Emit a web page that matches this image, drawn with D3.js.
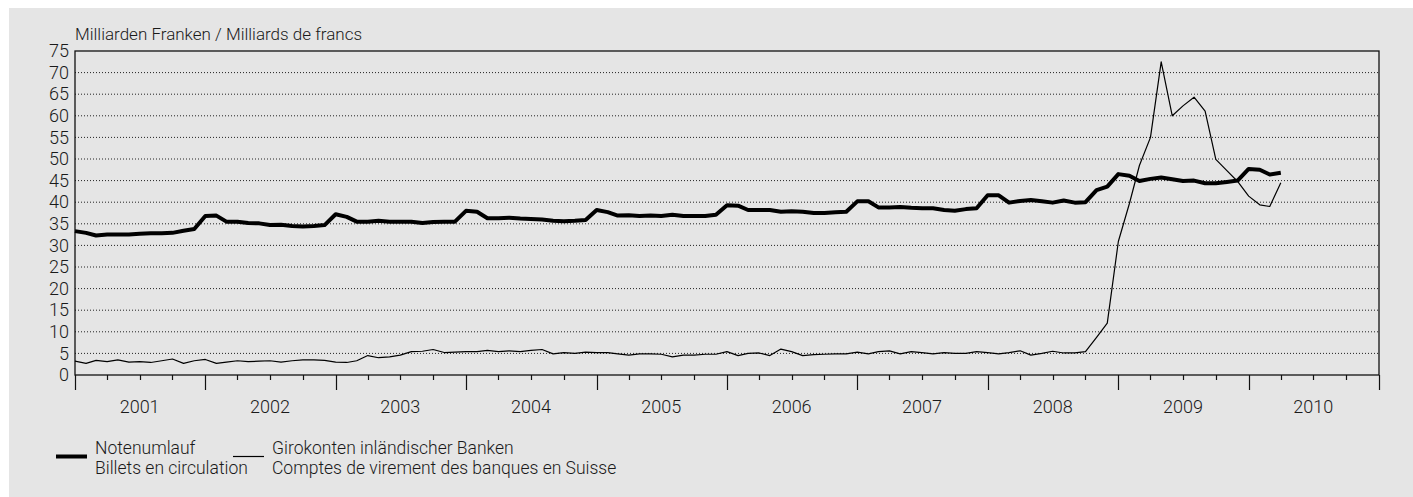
<!DOCTYPE html>
<html>
  <head>
    <meta charset="utf-8" />
    <title>Notenumlauf und Girokonten</title>
    <style>
      body{
        margin: 0;
        background: white;
        font-family: 'Roboto', sans-serif;
      }
      svg text{
        fill: #1a1a1a;
        font-weight: 300;
      }
    </style>
  </head>

  <body>
    <script src="https://d3js.org/d3.v7.min.js"></script>
    <svg id="chart"></svg>
    <script>
      // monthly values, first point Dec 2000 placed at start of 2001
      var notenumlauf = [
        33.3, 32.9, 32.3, 32.5, 32.5, 32.5, 32.7, 32.8, 32.8, 32.9, 33.4, 33.8,
        36.8, 36.9, 35.5, 35.5, 35.2, 35.1, 34.7, 34.8, 34.5, 34.4, 34.5, 34.7,
        37.2, 36.6, 35.5, 35.5, 35.7, 35.5, 35.5, 35.5, 35.2, 35.4, 35.5, 35.5,
        38.0, 37.8, 36.3, 36.3, 36.4, 36.2, 36.1, 36.0, 35.7, 35.6, 35.7, 35.9,
        38.2, 37.7, 36.9, 37.0, 36.8, 36.9, 36.8, 37.1, 36.8, 36.8, 36.8, 37.1,
        39.3, 39.2, 38.2, 38.2, 38.2, 37.8, 37.9, 37.8, 37.5, 37.5, 37.7, 37.8,
        40.2, 40.2, 38.8, 38.8, 38.9, 38.7, 38.6, 38.6, 38.2, 38.0, 38.4, 38.6,
        41.6, 41.6, 39.9, 40.3, 40.5, 40.2, 39.9, 40.4, 39.9, 40.0, 42.8, 43.6,
        46.5, 46.1, 44.9, 45.4, 45.7, 45.3, 44.9, 45.0, 44.4, 44.4, 44.7, 45.0,
        47.7, 47.5, 46.4, 46.8
      ];

      var girokonten = [
        3.2, 2.7, 3.4, 3.1, 3.5, 3.0, 3.1, 2.9, 3.3, 3.7, 2.7, 3.3,
        3.6, 2.7, 3.0, 3.3, 3.1, 3.2, 3.3, 3.0, 3.3, 3.5, 3.5, 3.4,
        3.0, 2.9, 3.3, 4.5, 4.0, 4.2, 4.6, 5.4, 5.5, 5.9, 5.2, 5.3,
        5.4, 5.4, 5.7, 5.4, 5.6, 5.4, 5.7, 5.9, 4.9, 5.2, 5.0, 5.3,
        5.2, 5.2, 4.9, 4.6, 4.9, 4.9, 4.8, 4.2, 4.6, 4.6, 4.8, 4.8,
        5.4, 4.5, 5.0, 5.1, 4.5, 6.0, 5.4, 4.5, 4.7, 4.8, 4.9, 4.9,
        5.3, 4.9, 5.4, 5.6, 4.9, 5.4, 5.2, 4.9, 5.2, 5.0, 5.0, 5.4,
        5.2, 4.9, 5.2, 5.6, 4.6, 5.0, 5.5, 5.1, 5.1, 5.4, 8.7, 12.0,
        30.9, 39.7, 48.5, 55.0, 72.5, 60.0, 62.3, 64.3, 61.1, 49.9, 47.3, 44.8,
        41.4, 39.4, 39.0, 44.5
      ];

      var years = [2001, 2002, 2003, 2004, 2005, 2006, 2007, 2008, 2009, 2010];
      var yTicks = d3.range(0, 80, 5);
      var unitLabel = "Milliarden Franken / Milliards de francs";
      var legendItems = [
        { lines: ["Notenumlauf", "Billets en circulation"], width: 4 },
        { lines: ["Girokonten inländischer Banken", "Comptes de virement des banques en Suisse"], width: 1.2 }
      ];

      var width = 1413;
      var height = 497;
      var margin = { top: 51, right: 34, bottom: 122, left: 75 };

      var svg = d3.select("#chart")
        .attr("width", width)
        .attr("height", height);

      svg.append("rect")
        .attr("x", 9)
        .attr("y", 8)
        .attr("width", width - 9)
        .attr("height", height - 8)
        .attr("fill", "#e5e5e5");

      var x = d3.scaleTime()
        .domain([new Date(2001, 0, 1), new Date(2011, 0, 1)])
        .range([margin.left, width - margin.right]);

      var y = d3.scaleLinear()
        .domain([0, 75])
        .range([height - margin.bottom, margin.top]);

      function monthDate(d, i) {
        return new Date(2001, i, 1);
      }

      // dotted grid
      svg.append("g")
        .selectAll("line")
        .data(yTicks.filter(function (d) { return d > 0 && d < 75; }))
        .enter()
        .append("line")
        .attr("x1", x.range()[0])
        .attr("x2", x.range()[1])
        .attr("y1", function (d) { return y(d); })
        .attr("y2", function (d) { return y(d); })
        .attr("stroke", "#222")
        .attr("stroke-width", 1)
        .attr("stroke-dasharray", "1,2");

      // y labels
      svg.append("g")
        .selectAll("text")
        .data(yTicks)
        .enter()
        .append("text")
        .attr("x", margin.left - 6)
        .attr("y", function (d) { return y(d); })
        .attr("dy", "0.34em")
        .attr("text-anchor", "end")
        .style("font-size", "18px")
        .text(function (d) { return d; });

      svg.append("text")
        .attr("x", margin.left)
        .attr("y", 40)
        .style("font-size", "17px")
        .text(unitLabel);

      // x axis ticks: quarters short, years long
      var quarters = d3.timeMonth.every(3).range(x.domain()[0], d3.timeDay.offset(x.domain()[1], 1));
      svg.append("g")
        .selectAll("line")
        .data(quarters)
        .enter()
        .append("line")
        .attr("x1", function (d) { return Math.round(x(d)) + 0.5; })
        .attr("x2", function (d) { return Math.round(x(d)) + 0.5; })
        .attr("y1", y(0))
        .attr("y2", function (d) { return d.getMonth() === 0 ? y(0) + 15 : y(0) + 5; })
        .attr("stroke", "#111")
        .attr("stroke-width", 1.2);

      svg.append("g")
        .selectAll("text")
        .data(years)
        .enter()
        .append("text")
        .attr("x", function (d) { return x(new Date(d, 6, 1)); })
        .attr("y", 413)
        .attr("text-anchor", "middle")
        .style("font-size", "18px")
        .text(function (d) { return d; });

      // frame
      svg.append("rect")
        .attr("x", x.range()[0])
        .attr("y", y(75))
        .attr("width", x.range()[1] - x.range()[0])
        .attr("height", y(0) - y(75))
        .attr("fill", "none")
        .attr("stroke", "#111")
        .attr("stroke-width", 1.3);

      var line = d3.line()
        .x(function (d, i) { return x(monthDate(d, i)); })
        .y(function (d) { return y(d); });

      svg.append("path")
        .datum(girokonten)
        .attr("d", line)
        .attr("fill", "none")
        .attr("stroke", "#000")
        .attr("stroke-width", 1.2)
        .attr("stroke-linejoin", "round");

      svg.append("path")
        .datum(notenumlauf)
        .attr("d", line)
        .attr("fill", "none")
        .attr("stroke", "#000")
        .attr("stroke-width", 4)
        .attr("stroke-linejoin", "round");

      // legend
      var legendX = [56, 233];
      var legend = svg.append("g")
        .selectAll("g")
        .data(legendItems)
        .enter()
        .append("g")
        .attr("transform", function (d, i) { return "translate(" + legendX[i] + ",0)"; });

      legend.append("line")
        .attr("x1", 0)
        .attr("x2", 31)
        .attr("y1", 456.5)
        .attr("y2", 456.5)
        .attr("stroke", "#000")
        .attr("stroke-width", function (d) { return d.width; });

      legend.append("text")
        .attr("x", 39)
        .attr("y", 454)
        .style("font-size", "17.5px")
        .selectAll("tspan")
        .data(function (d) { return d.lines; })
        .enter()
        .append("tspan")
        .attr("x", 39)
        .attr("dy", function (d, i) { return i === 0 ? 0 : 20; })
        .text(function (d) { return d; });
    </script>
  </body>
</html>
